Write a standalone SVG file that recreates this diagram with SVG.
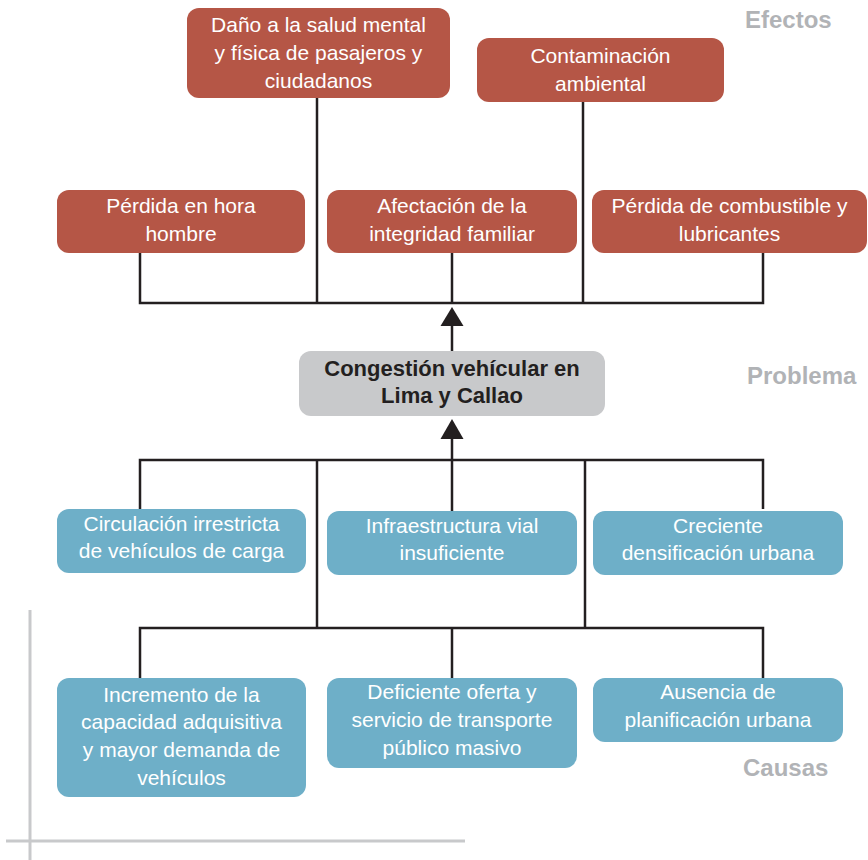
<svg xmlns="http://www.w3.org/2000/svg" width="868" height="860" viewBox="0 0 868 860">
<style>
.eff{fill:#b55646}
.cau{fill:#6eafc8}
.prob{fill:#c8c9cb}
.t{font-family:"Liberation Sans",Arial,sans-serif;font-size:21px;fill:#ffffff;text-anchor:middle}
.tb{font-family:"Liberation Sans",Arial,sans-serif;font-size:22px;font-weight:bold;fill:#231f20;text-anchor:middle}
.lbl{font-family:"Liberation Sans",Arial,sans-serif;font-size:24px;font-weight:bold;fill:#b1b3b6}
.ln{fill:none;stroke:#231f20;stroke-width:2.5}
</style>
<defs>
<marker id="arr" viewBox="0 0 23 19" refX="11.5" refY="0" markerWidth="23" markerHeight="19" markerUnits="userSpaceOnUse" orient="auto-start-reverse">
<path d="M0,19 L11.5,0 L23,19 Z" fill="#231f20"/>
</marker>
</defs>
<rect width="868" height="860" fill="#ffffff"/>
<g id="frame" fill="none" stroke="#c8c9cb" stroke-width="3">
<line x1="30" y1="610" x2="30" y2="860"/>
<line x1="6" y1="841" x2="465" y2="841"/>
</g>
<g id="connectors">
<polyline class="ln" points="140,253 140,303 763,303 763,253"/>
<line class="ln" x1="317" y1="98" x2="317" y2="303"/>
<line class="ln" x1="452" y1="253" x2="452" y2="303"/>
<line class="ln" x1="583" y1="102" x2="583" y2="303"/>
<path d="M440.5,326 L452,307 L463.5,326 Z" fill="#231f20"/>
<line class="ln" x1="452" y1="325" x2="452" y2="351"/>
<path d="M440.5,439 L452,419 L463.5,439 Z" fill="#231f20"/>
<line class="ln" x1="452" y1="438" x2="452" y2="460"/>
<polyline class="ln" points="140,509 140,460 763,460 763,509"/>
<line class="ln" x1="452" y1="460" x2="452" y2="511"/>
<line class="ln" x1="317" y1="460" x2="317" y2="628"/>
<line class="ln" x1="585" y1="460" x2="585" y2="628"/>
<polyline class="ln" points="140,678 140,628 763,628 763,678"/>
<line class="ln" x1="452" y1="628" x2="452" y2="678"/>
</g>
<g id="dano">
<rect class="eff" x="187" y="8" width="263" height="90" rx="12"/>
<text class="t" x="318.5" y="32">Daño a la salud mental</text>
<text class="t" x="318.5" y="60">y física de pasajeros y</text>
<text class="t" x="318.5" y="88">ciudadanos</text>
</g>
<g id="contaminacion">
<rect class="eff" x="477" y="38" width="247" height="64" rx="12"/>
<text class="t" x="600.5" y="63">Contaminación</text>
<text class="t" x="600.5" y="91">ambiental</text>
</g>
<g id="perdida-hora">
<rect class="eff" x="57" y="190" width="248" height="63" rx="12"/>
<text class="t" x="181" y="213">Pérdida en hora</text>
<text class="t" x="181" y="241">hombre</text>
</g>
<g id="afectacion">
<rect class="eff" x="327" y="190" width="250" height="63" rx="12"/>
<text class="t" x="452" y="213">Afectación de la</text>
<text class="t" x="452" y="241">integridad familiar</text>
</g>
<g id="perdida-combustible">
<rect class="eff" x="592" y="190" width="275" height="63" rx="12"/>
<text class="t" x="729.5" y="213">Pérdida de combustible y</text>
<text class="t" x="729.5" y="241">lubricantes</text>
</g>
<g id="problema">
<rect class="prob" x="299" y="351" width="306" height="65" rx="12"/>
<text class="tb" x="452" y="376">Congestión vehícular en</text>
<text class="tb" x="452" y="403">Lima y Callao</text>
</g>
<g id="circulacion">
<rect class="cau" x="57" y="509" width="249" height="64" rx="12"/>
<text class="t" x="181.5" y="531">Circulación irrestricta</text>
<text class="t" x="181.5" y="558">de vehículos de carga</text>
</g>
<g id="infraestructura">
<rect class="cau" x="327" y="511" width="250" height="64" rx="12"/>
<text class="t" x="452" y="533">Infraestructura vial</text>
<text class="t" x="452" y="560">insuficiente</text>
</g>
<g id="densificacion">
<rect class="cau" x="593" y="511" width="250" height="64" rx="12"/>
<text class="t" x="718" y="533">Creciente</text>
<text class="t" x="718" y="560">densificación urbana</text>
</g>
<g id="incremento">
<rect class="cau" x="57" y="678" width="249" height="119" rx="12"/>
<text class="t" x="181.5" y="702">Incremento de la</text>
<text class="t" x="181.5" y="729">capacidad adquisitiva</text>
<text class="t" x="181.5" y="757">y mayor demanda de</text>
<text class="t" x="181.5" y="785">vehículos</text>
</g>
<g id="deficiente">
<rect class="cau" x="327" y="678" width="250" height="90" rx="12"/>
<text class="t" x="452" y="699">Deficiente oferta y</text>
<text class="t" x="452" y="727">servicio de transporte</text>
<text class="t" x="452" y="755">público masivo</text>
</g>
<g id="ausencia">
<rect class="cau" x="593" y="678" width="250" height="64" rx="12"/>
<text class="t" x="718" y="699">Ausencia de</text>
<text class="t" x="718" y="727">planificación urbana</text>
</g>
<g id="labels">
<text class="lbl" x="745" y="28">Efectos</text>
<text class="lbl" x="747" y="384">Problema</text>
<text class="lbl" x="743" y="776">Causas</text>
</g>
</svg>
